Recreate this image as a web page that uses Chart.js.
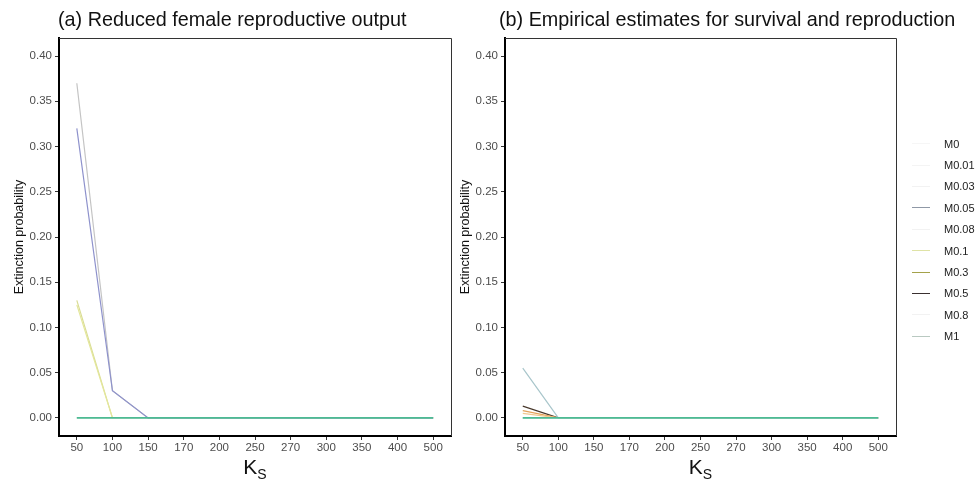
<!DOCTYPE html>
<html>
<head>
<meta charset="utf-8">
<script src="https://cdn.jsdelivr.net/npm/chart.js@4/dist/chart.umd.min.js"></script>
<style>
  html, body { margin: 0; padding: 0; background: #fff; }
  body { width: 975px; height: 479px; position: relative; overflow: hidden; font-family: "Liberation Sans", Arial, sans-serif; }
  .panel { position: absolute; top: 0; height: 479px; }
  #panelA { left: 0; width: 462px; }
  #panelB { left: 446px; width: 529px; }
  #legend { position: absolute; left: 912px; top: 133px; }
  .key { height: 21.4px; display: flex; align-items: center; font-size: 11px; color: #222; }
  .key span.swatch { display: inline-block; width: 18px; height: 0; border-top: 1.5px solid; margin-right: 14px; }
</style>
</head>
<body>
<div class="panel" id="panelA"><canvas id="chartA"></canvas></div>
<div class="panel" id="panelB"><canvas id="chartB"></canvas></div>
<div id="legend"></div>
<script>
// x categories (carrying capacity K_S) and y ticks
const KS = ['50', '100', '150', '170', '200', '250', '270', '300', '350', '400', '500'];
const Y_TICKS = [0, 0.05, 0.10, 0.15, 0.20, 0.25, 0.30, 0.35, 0.40];
const SERIES = ['M0', 'M0.01', 'M0.03', 'M0.05', 'M0.08', 'M0.1', 'M0.3', 'M0.5', 'M0.8', 'M1'];

// (a) reduced female reproductive output
const A_M0    = [0.37, 0.03, 0, 0, 0, 0, 0, 0, 0, 0, 0];
const A_M0_01 = [0, 0, 0, 0, 0, 0, 0, 0, 0, 0, 0];
const A_M0_03 = [0, 0, 0, 0, 0, 0, 0, 0, 0, 0, 0];
const A_M0_05 = [0.32, 0.03, 0, 0, 0, 0, 0, 0, 0, 0, 0];
const A_M0_08 = [0, 0, 0, 0, 0, 0, 0, 0, 0, 0, 0];
const A_M0_1  = [0.125, 0, 0, 0, 0, 0, 0, 0, 0, 0, 0];
const A_M0_3  = [0.13, 0, 0, 0, 0, 0, 0, 0, 0, 0, 0];
const A_M0_5  = [0, 0, 0, 0, 0, 0, 0, 0, 0, 0, 0];
const A_M0_8  = [0, 0, 0, 0, 0, 0, 0, 0, 0, 0, 0];
const A_M1    = [0, 0, 0, 0, 0, 0, 0, 0, 0, 0, 0];

// (b) empirical estimates for survival and reproduction
const B_M0    = [0, 0, 0, 0, 0, 0, 0, 0, 0, 0, 0];
const B_M0_01 = [0, 0, 0, 0, 0, 0, 0, 0, 0, 0, 0];
const B_M0_03 = [0, 0, 0, 0, 0, 0, 0, 0, 0, 0, 0];
const B_M0_05 = [0.055, 0, 0, 0, 0, 0, 0, 0, 0, 0, 0];
const B_M0_08 = [0, 0, 0, 0, 0, 0, 0, 0, 0, 0, 0];
const B_M0_1  = [0.005, 0, 0, 0, 0, 0, 0, 0, 0, 0, 0];
const B_M0_3  = [0.008, 0, 0, 0, 0, 0, 0, 0, 0, 0, 0];
const B_M0_5  = [0.013, 0, 0, 0, 0, 0, 0, 0, 0, 0, 0];
const B_M0_8  = [0, 0, 0, 0, 0, 0, 0, 0, 0, 0, 0];
const B_M1    = [0, 0, 0, 0, 0, 0, 0, 0, 0, 0, 0];

const DATA_A = [A_M0, A_M0_01, A_M0_03, A_M0_05, A_M0_08, A_M0_1, A_M0_3, A_M0_5, A_M0_8, A_M1];
const DATA_B = [B_M0, B_M0_01, B_M0_03, B_M0_05, B_M0_08, B_M0_1, B_M0_3, B_M0_5, B_M0_8, B_M1];

// line colours per panel, legend key colours
const COLORS_A = ['#c4c4c4', '#eeeeee', '#eeeeee', '#8e92cc', '#eeeeee', '#e4e79c', '#d9dc95', '#eeeeee', '#eeeeee', '#4dbb93'];
const COLORS_B = ['#eeeeee', '#eeeeee', '#eeeeee', '#a9c6cb', '#eeeeee', '#f2c890', '#e4a25a', '#4a3a2e', '#eeeeee', '#4dbb93'];
const KEY_COLORS = ['#f6f6f6', '#f4f4f4', '#f2f2f2', '#8f98a6', '#f2f2f2', '#dfe3a6', '#a4a24a', '#3a3030', '#f2f2f2', '#b9c9c1'];

// lower value = drawn later (on top)
const DRAW_ORDER = { 'M1': -2, 'M0.05': -1 };

const framePlugin = {
  id: 'panelFrame',
  afterDraw(chart, args, opts) {
    const { ctx, chartArea: a } = chart;
    ctx.save();
    // thin top / right border
    ctx.strokeStyle = '#333';
    ctx.lineWidth = 1;
    ctx.beginPath();
    ctx.moveTo(a.left, a.top + 0.5);
    ctx.lineTo(a.right + 0.5, a.top + 0.5);
    ctx.lineTo(a.right + 0.5, a.bottom);
    ctx.stroke();

    // panel title
    ctx.fillStyle = '#111';
    ctx.font = '19.8px "Liberation Sans", Arial, sans-serif';
    ctx.textAlign = 'left';
    ctx.textBaseline = 'alphabetic';
    ctx.fillText(opts.title, opts.titleX, 26);

    // y title
    ctx.save();
    ctx.translate(20, (a.top + a.bottom) / 2);
    ctx.rotate(-Math.PI / 2);
    ctx.textAlign = 'center';
    ctx.textBaseline = 'middle';
    ctx.font = '12.5px "Liberation Sans", Arial, sans-serif';
    ctx.fillStyle = '#111';
    ctx.fillText('Extinction probability', 0, 0);
    ctx.restore();

    // x title: K with subscript S
    const cx = (a.left + a.right) / 2;
    ctx.font = '21px "Liberation Sans", Arial, sans-serif';
    const kw = ctx.measureText('K').width;
    ctx.font = '14px "Liberation Sans", Arial, sans-serif';
    const sw = ctx.measureText('S').width;
    const x0 = cx - (kw + sw) / 2;
    ctx.textAlign = 'left';
    ctx.font = '21px "Liberation Sans", Arial, sans-serif';
    ctx.fillText('K', x0, 474);
    ctx.font = '14px "Liberation Sans", Arial, sans-serif';
    ctx.fillText('S', x0 + kw, 479);
    ctx.restore();
  }
};

function makePanel(canvasId, data, colors, title, titleX, padRight) {
  const datasets = SERIES.map((name, i) => ({
    label: name,
    data: data[i],
    borderColor: colors[i],
    backgroundColor: colors[i],
    borderWidth: name === 'M1' ? 1.6 : 1.2,
    pointRadius: 0,
    tension: 0,
    fill: false,
    order: name in DRAW_ORDER ? DRAW_ORDER[name] : i,
  }));

  return new Chart(document.getElementById(canvasId), {
    type: 'line',
    data: { labels: KS, datasets },
    options: {
      responsive: true,
      maintainAspectRatio: false,
      animation: false,
      layout: { padding: { left: 0, top: 38, right: padRight, bottom: 0 } },
      plugins: {
        legend: { display: false },
        tooltip: { enabled: false },
        panelFrame: { title, titleX },
      },
      scales: {
        x: {
          type: 'category',
          offset: true,
          grid: { drawOnChartArea: false, drawTicks: true, tickLength: 4, color: '#333' },
          border: { display: true, color: '#000', width: 2 },
          ticks: { color: '#4d4d4d', font: { size: 11.5 }, padding: 1, maxRotation: 0, autoSkip: false },
          afterFit: s => { s.height = 43; },
        },
        y: {
          min: -0.02,
          max: 0.42,
          grid: { drawOnChartArea: false, drawTicks: true, tickLength: 4, color: '#333' },
          border: { display: true, color: '#000', width: 2 },
          ticks: { color: '#4d4d4d', font: { size: 11.5 }, padding: 3, callback: v => v.toFixed(2) },
          afterBuildTicks: s => { s.ticks = Y_TICKS.map(v => ({ value: v })); },
          afterFit: s => { s.width = 59; },
        },
      },
    },
    plugins: [framePlugin],
  });
}

makePanel('chartA', DATA_A, COLORS_A, '(a) Reduced female reproductive output', 58, 11);
makePanel('chartB', DATA_B, COLORS_B, '(b) Empirical estimates for survival and reproduction', 53, 79);

// legend shared by both panels
const legend = document.getElementById('legend');
SERIES.forEach((name, i) => {
  const row = document.createElement('div');
  row.className = 'key';
  const sw = document.createElement('span');
  sw.className = 'swatch';
  sw.style.borderTopColor = KEY_COLORS[i];
  row.appendChild(sw);
  row.appendChild(document.createTextNode(name));
  legend.appendChild(row);
});
</script>
</body>
</html>
